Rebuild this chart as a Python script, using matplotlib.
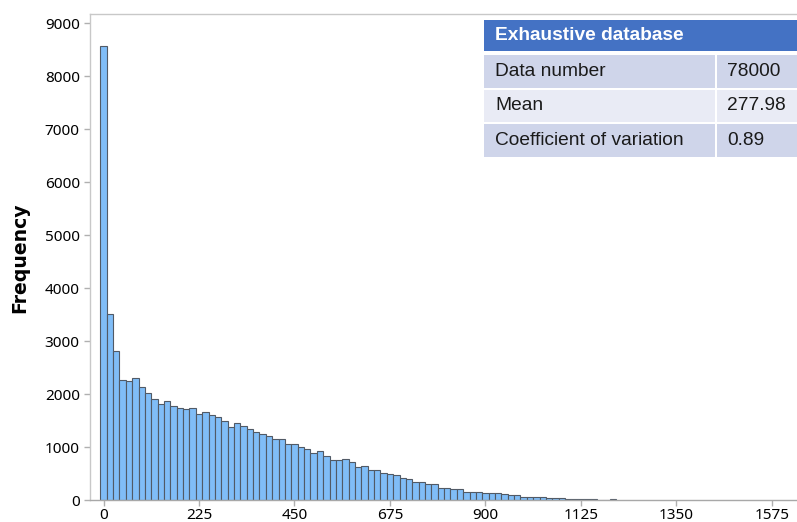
import matplotlib
matplotlib.use("Agg")
import matplotlib.pyplot as plt
from matplotlib.patches import Rectangle

# ---------------- data ----------------
bin_width = 15
bin_centers = list(range(0, 1201, 15))
frequencies = [
    8570, 3516, 2818, 2270, 2252, 2308, 2138, 2025, 1906, 1818,
    1862, 1774, 1742, 1723, 1742, 1629, 1660, 1610, 1572, 1491,
    1384, 1459, 1390, 1340, 1289, 1245, 1208, 1145, 1145, 1055,
    1050, 994, 956, 887, 918, 836, 755, 755, 767, 711,
    616, 648, 566, 566, 516, 484, 465, 409, 390, 346,
    346, 308, 308, 233, 233, 201, 201, 157, 145, 157,
    130, 130, 128, 110, 85, 85, 55, 55, 55, 55,
    38, 38, 38, 15, 12, 12, 10, 10, 8, 0,
    15,
]
x_ticks = [0, 225, 450, 675, 900, 1125, 1350, 1575]
y_ticks = [0, 1000, 2000, 3000, 4000, 5000, 6000, 7000, 8000, 9000]
y_label = "Frequency"

table_title = "Exhaustive database"
table_labels = ["Data number", "Mean", "Coefficient of variation"]
table_values = ["78000", "277.98", "0.89"]

# ---------------- figure ----------------
W, H = 797, 522
fig = plt.figure(figsize=(W / 100, H / 100), dpi=100)

def fx(px):
    return px / W

def fy(py):
    return 1 - py / H

ax_left, ax_right, ax_top, ax_bottom = 89.5, 797, 14, 500
ax = fig.add_axes([fx(ax_left), fy(ax_bottom), fx(ax_right - ax_left), (ax_bottom - ax_top) / H])

ax.bar(bin_centers, frequencies, width=bin_width, align="center",
       color="#80BDF7", edgecolor="#515a66", linewidth=0.8, zorder=2)

ax.set_xlim(-33, 1634)
ax.set_ylim(0, 9175)
ax.set_xticks(x_ticks)
ax.set_yticks(y_ticks)

tick_font = "Noto Sans"
ax.set_xticklabels([str(t) for t in x_ticks], fontfamily=tick_font, fontsize=11)
ax.set_yticklabels([str(t) for t in y_ticks], fontfamily=tick_font, fontsize=11)
ax.tick_params(axis="both", color="#b0b0b0", length=4, width=1, labelcolor="#000000")
ax.tick_params(axis="x", pad=1.5)
ax.tick_params(axis="y", pad=3)

for side in ["left", "top"]:
    ax.spines[side].set_color("#c8c8c8")
    ax.spines[side].set_linewidth(1)
ax.spines["bottom"].set_color("#a8a8a8")
ax.spines["bottom"].set_linewidth(1)
ax.spines["right"].set_visible(False)

fig.text(fx(20), fy(258), y_label, rotation=90, ha="center", va="center",
         fontfamily="DejaVu Sans", fontweight="bold", fontsize=13.6, color="#000000")

# ---------------- table ----------------
tbl_font = "Liberation Sans"
hx0, hx1 = 484, 797
fig.add_artist(Rectangle((fx(hx0), fy(51)), fx(hx1 - hx0), (51 - 20) / H,
                         transform=fig.transFigure, facecolor="#4472C4", edgecolor="none"))
fig.text(fx(495), fy(36), table_title, ha="left", va="center", color="white",
         fontfamily=tbl_font, fontweight="bold", fontsize=13.8)

row_tops = [55, 89.5, 124]
row_h = 32.5
row_colors = ["#CFD5EA", "#E9EBF5", "#CFD5EA"]
col_split_l, col_split_r = 714.5, 716.5
for i, (lab, val) in enumerate(zip(table_labels, table_values)):
    top = row_tops[i]
    bot = top + row_h
    fig.add_artist(Rectangle((fx(hx0), fy(bot)), fx(col_split_l - hx0), row_h / H,
                             transform=fig.transFigure, facecolor=row_colors[i], edgecolor="none"))
    fig.add_artist(Rectangle((fx(col_split_r), fy(bot)), fx(hx1 - col_split_r), row_h / H,
                             transform=fig.transFigure, facecolor=row_colors[i], edgecolor="none"))
    yc = (top + bot) / 2
    fig.text(fx(495), fy(yc), lab, ha="left", va="center", color="#1a1a1a",
             fontfamily=tbl_font, fontsize=13.8)
    fig.text(fx(727), fy(yc), val, ha="left", va="center", color="#1a1a1a",
             fontfamily=tbl_font, fontsize=13.8)

fig.savefig("out.png", dpi=100)
